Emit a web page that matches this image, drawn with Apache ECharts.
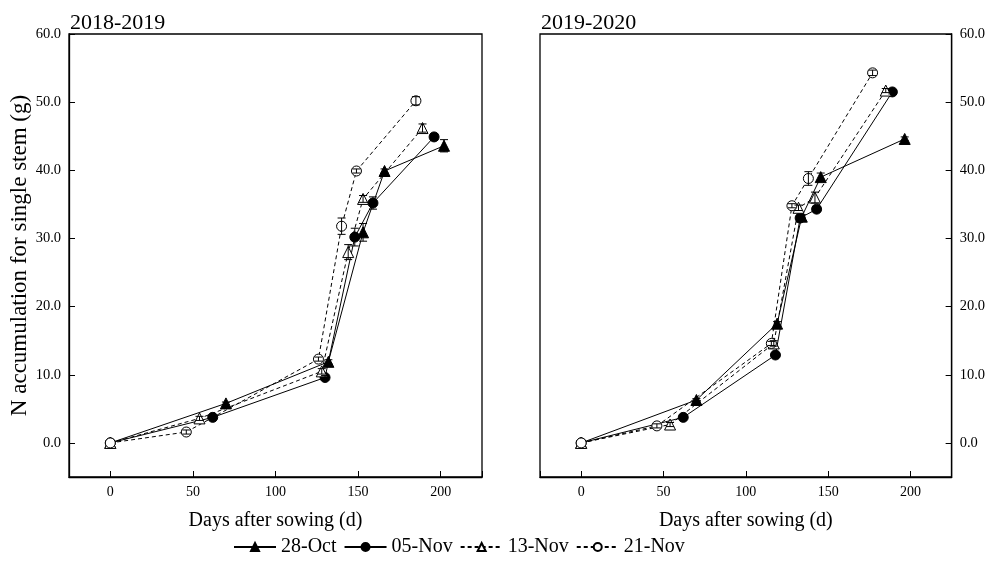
<!DOCTYPE html>
<html><head><meta charset="utf-8">
<script src="https://cdn.jsdelivr.net/npm/echarts@6/dist/echarts.min.js"></script>
<style>html,body{margin:0;padding:0;background:#fff}#c{width:988px;height:561px}</style>
</head><body><div id="c"></div>
<script>
// ---- data ----
const seriesNames = ['28-Oct', '05-Nov', '13-Nov', '21-Nov'];
const panelTitles = ['2018-2019', '2019-2020'];
const xTickValues = [0, 50, 100, 150, 200];
const yTickValues = [0, 10, 20, 30, 40, 50, 60];

// 2018-2019
const days18_oct28 = [0, 70, 132, 153, 166, 202];
const n18_oct28    = [0, 5.8, 11.9, 30.9, 39.9, 43.6];
const e18_oct28    = [0, 0.2, 0.3, 1.3, 0.3, 0.9];
const days18_nov05 = [0, 62, 130, 148, 159, 196];
const n18_nov05    = [0, 3.75, 9.6, 30.2, 35.2, 44.9];
const e18_nov05    = [0, 0.2, 0.3, 1.3, 0.9, 0.5];
const days18_nov13 = [0, 54, 128, 144, 153, 189];
const n18_nov13    = [0, 3.6, 10.5, 28.0, 35.8, 46.2];
const e18_nov13    = [0, 0.3, 0.4, 1.1, 0.5, 0.6];
const days18_nov21 = [0, 46, 126, 140, 149, 185];
const n18_nov21    = [0, 1.6, 12.3, 31.8, 39.9, 50.2];
const e18_nov21    = [0, 0.3, 0.3, 1.2, 0.3, 0.6];

// 2019-2020
const days19_oct28 = [0, 70, 119, 134, 145.5, 196.5];
const n19_oct28    = [0, 6.3, 17.5, 33.2, 39.0, 44.6];
const e19_oct28    = [0, 0.2, 0.3, 0.3, 0.6, 0.3];
const days19_nov05 = [0, 62, 118, 133, 143, 189];
const n19_nov05    = [0, 3.75, 12.9, 33.0, 34.3, 51.5];
const e19_nov05    = [0, 0.2, 0.3, 0.3, 0.4, 0.3];
const days19_nov13 = [0, 54, 117, 132, 142, 185];
const n19_nov13    = [0, 2.7, 14.6, 34.5, 36.0, 51.7];
const e19_nov13    = [0, 0.3, 0.4, 0.4, 0.8, 0.3];
const days19_nov21 = [0, 46, 115.5, 128, 138, 177];
const n19_nov21    = [0, 2.5, 14.6, 34.8, 38.8, 54.3];
const e19_nov21    = [0, 0.3, 0.3, 0.3, 1.0, 0.4];

const panels = [
  [[days18_oct28, n18_oct28, e18_oct28], [days18_nov05, n18_nov05, e18_nov05],
   [days18_nov13, n18_nov13, e18_nov13], [days18_nov21, n18_nov21, e18_nov21]],
  [[days19_oct28, n19_oct28, e19_oct28], [days19_nov05, n19_nov05, e19_nov05],
   [days19_nov13, n19_nov13, e19_nov13], [days19_nov21, n19_nov21, e19_nov21]]
];

// ---- styles ----
const FONT = 'Liberation Serif';
const styles = [
  {symbol: 'triangle', size: 11, fill: '#000', line: 'solid'},
  {symbol: 'circle', size: 10, fill: '#000', line: 'solid'},
  {symbol: 'triangle', size: 11, fill: '#fff', line: [4, 3]},
  {symbol: 'circle', size: 10, fill: '#fff', line: [4, 3]}
];

const grids = [
  {left: 69, top: 34, width: 413, height: 443, show: true, borderColor: '#000', borderWidth: 1.3, backgroundColor: 'transparent'},
  {left: 540, top: 34, width: 413, height: 443, show: true, borderColor: '#000', borderWidth: 1.3, backgroundColor: 'transparent'}
];

function xAxis(i) {
  return {
    type: 'value', gridIndex: i, min: -25, max: 225,
    name: 'Days after sowing (d)', nameLocation: 'middle', nameGap: 34,
    nameTextStyle: {fontFamily: FONT, fontSize: 20, color: '#000'},
    axisLine: {show: true, onZero: false, lineStyle: {color: '#000', width: 1.3}},
    axisTick: {show: true, inside: true, length: 6, lineStyle: {color: '#000'}},
    axisLabel: {fontFamily: FONT, fontSize: 14, color: '#000', margin: 8,
      formatter: v => xTickValues.indexOf(v) >= 0 ? String(v) : ''},
    splitLine: {show: false}
  };
}
function yAxis(i) {
  const ax = {
    type: 'value', gridIndex: i, min: -5, max: 60,
    position: i === 0 ? 'left' : 'right',
    axisLine: {show: true, onZero: false, lineStyle: {color: '#000', width: 1.3}},
    axisTick: {show: true, inside: true, length: 6, lineStyle: {color: '#000'}},
    axisLabel: {fontFamily: FONT, fontSize: 14.5, color: '#000', margin: 8,
      formatter: v => yTickValues.indexOf(v) >= 0 ? v.toFixed(1) : ''},
    splitLine: {show: false}
  };
  if (i === 0) {
    ax.name = 'N accumulation for single stem (g)';
    ax.nameLocation = 'middle';
    ax.nameGap = 35;
    ax.nameTextStyle = {fontFamily: FONT, fontSize: 23, color: '#000'};
  }
  return ax;
}

const series = [];
panels.forEach((panel, p) => {
  panel.forEach((s, k) => {
    const [days, vals, errs] = s;
    const st = styles[k];
    series.push({
      type: 'line', name: seriesNames[k], xAxisIndex: p, yAxisIndex: p,
      data: days.map((d, j) => [d, vals[j]]),
      symbol: st.symbol, symbolSize: st.size, showAllSymbol: true,
      lineStyle: {color: '#000', width: 1, type: st.line},
      itemStyle: {color: st.fill, borderColor: '#000', borderWidth: 1},
      z: 3, animation: false
    });
    series.push({
      type: 'custom', name: 'err_' + p + '_' + k, xAxisIndex: p, yAxisIndex: p,
      data: days.map((d, j) => [d, vals[j], errs[j]]),
      encode: {x: 0, y: 1},
      z: 4, animation: false, silent: true,
      renderItem: function (params, api) {
        const x = api.value(0), y = api.value(1), e = api.value(2);
        if (!e) return null;
        const t = api.coord([x, y + e]), b = api.coord([x, y - e]);
        const w = 4, ls = {stroke: '#000', lineWidth: 1};
        return {type: 'group', children: [
          {type: 'line', shape: {x1: t[0], y1: t[1], x2: b[0], y2: b[1]}, style: ls},
          {type: 'line', shape: {x1: t[0] - w, y1: t[1], x2: t[0] + w, y2: t[1]}, style: ls},
          {type: 'line', shape: {x1: b[0] - w, y1: b[1], x2: b[0] + w, y2: b[1]}, style: ls}
        ]};
      }
    });
  });
});

const chart = echarts.init(document.getElementById('c'), null, {renderer: 'canvas'});
chart.setOption({
  backgroundColor: '#fff',
  animation: false,
  textStyle: {fontFamily: FONT},
  grid: grids,
  xAxis: [xAxis(0), xAxis(1)],
  yAxis: [yAxis(0), yAxis(1)],
  graphic: [
    {type: 'text', left: 70, top: 12, style: {text: panelTitles[0], font: '22px "Liberation Serif"', fill: '#000'}},
    {type: 'text', left: 541, top: 12, style: {text: panelTitles[1], font: '22px "Liberation Serif"', fill: '#000'}}
  ],
  legend: {
    data: seriesNames, left: 233, top: 537, padding: 0, itemWidth: 42, itemHeight: 10, itemGap: 7,
    textStyle: {fontFamily: FONT, fontSize: 20, color: '#000'}
  },
  series: series
});
</script>
</body></html>
